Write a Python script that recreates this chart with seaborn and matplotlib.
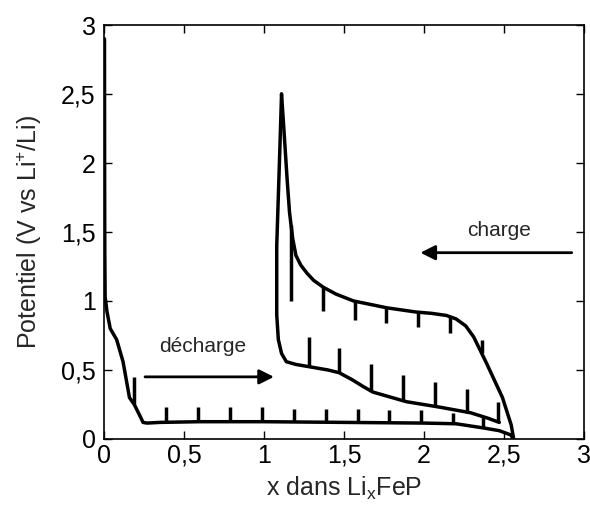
import matplotlib
matplotlib.use('Agg')
import matplotlib.pyplot as plt
import seaborn as sns

# first discharge (x goes up)
dis1_x = [0.004, 0.005, 0.006, 0.008, 0.02, 0.04, 0.08, 0.12, 0.16, 0.19, 0.22, 0.245, 0.27,
          0.35, 0.6, 1.0, 1.5, 2.0, 2.2, 2.37, 2.47, 2.54, 2.56]
dis1_y = [2.9, 1.8, 1.35, 1.03, 0.92, 0.8, 0.72, 0.56, 0.3, 0.25, 0.18, 0.12, 0.115,
          0.12, 0.125, 0.125, 0.12, 0.115, 0.11, 0.08, 0.06, 0.03, 0.0]
dis1_spike_x = [0.19, 0.39, 0.59, 0.79, 0.99, 1.19, 1.39, 1.59, 1.78, 1.98, 2.18, 2.37]
dis1_spike_lo = [0.25, 0.12, 0.125, 0.125, 0.125, 0.125, 0.122, 0.12, 0.118, 0.115, 0.11, 0.08]
dis1_spike_hi = [0.45, 0.23, 0.23, 0.23, 0.23, 0.22, 0.22, 0.22, 0.21, 0.21, 0.19, 0.16]

# charge (x goes down)
chg_x = [2.56, 2.545, 2.49, 2.39, 2.31, 2.26, 2.2, 2.14, 2.05, 1.95, 1.77, 1.56, 1.45,
         1.37, 1.31, 1.27, 1.23, 1.2, 1.18, 1.16, 1.145, 1.125, 1.11]
chg_y = [0.0, 0.1, 0.3, 0.55, 0.74, 0.82, 0.87, 0.895, 0.91, 0.92, 0.95, 1.0, 1.05,
         1.1, 1.15, 1.2, 1.26, 1.33, 1.45, 1.64, 1.88, 2.24, 2.5]
chg_spike_x = [1.17, 1.37, 1.57, 1.76, 1.96, 2.16, 2.36]
chg_spike_hi = [1.55, 1.1, 1.0, 0.95, 0.92, 0.89, 0.72]
chg_spike_lo = [1.0, 0.93, 0.86, 0.84, 0.81, 0.77, 0.62]

# second discharge
dis2_x = [1.11, 1.10, 1.08, 1.08, 1.09, 1.11, 1.14, 1.2, 1.3, 1.4, 1.47, 1.55, 1.62,
          1.68, 1.8, 1.89, 2.1, 2.29, 2.4, 2.47]
dis2_y = [2.5, 2.12, 1.4, 0.9, 0.72, 0.62, 0.56, 0.54, 0.52, 0.5, 0.48, 0.43, 0.38,
          0.34, 0.3, 0.27, 0.23, 0.19, 0.15, 0.12]
dis2_spike_x = [1.28, 1.47, 1.67, 1.87, 2.07, 2.27, 2.46]
dis2_spike_lo = [0.52, 0.48, 0.35, 0.28, 0.23, 0.19, 0.12]
dis2_spike_hi = [0.74, 0.66, 0.54, 0.46, 0.41, 0.36, 0.27]

ticks = [0, 0.5, 1, 1.5, 2, 2.5, 3]
tick_labels = ['0', '0,5', '1', '1,5', '2', '2,5', '3']

sns.set_theme(style='ticks')
plt.rcParams['font.family'] = ['Liberation Sans', 'DejaVu Sans']
plt.rcParams['mathtext.default'] = 'regular'

fig, ax = plt.subplots(figsize=(5.9, 5.11), dpi=100)
fig.subplots_adjust(left=0.176, right=0.99, bottom=0.141, top=0.951)

lw = 2.5
for xs, ys in [(dis1_x, dis1_y), (chg_x, chg_y), (dis2_x, dis2_y)]:
    sns.lineplot(x=xs, y=ys, sort=False, estimator=None, color='black', lw=lw,
                 ax=ax, solid_joinstyle='round', solid_capstyle='round')

# relaxation spikes
ax.vlines(dis1_spike_x, dis1_spike_lo, dis1_spike_hi, color='black', lw=lw)
ax.vlines(chg_spike_x, chg_spike_lo, chg_spike_hi, color='black', lw=lw)
ax.vlines(dis2_spike_x, dis2_spike_lo, dis2_spike_hi, color='black', lw=lw)

# arrows + labels
ax.annotate('', xy=(1.08, 0.45), xytext=(0.24, 0.45),
            arrowprops=dict(arrowstyle='-|>', color='black', lw=2, mutation_scale=22))
ax.text(0.62, 0.67, 'décharge', fontsize=15, ha='center', va='center')
ax.annotate('', xy=(1.96, 1.35), xytext=(2.94, 1.35),
            arrowprops=dict(arrowstyle='-|>', color='black', lw=2, mutation_scale=22))
ax.text(2.47, 1.51, 'charge', fontsize=15, ha='center', va='center')

ax.set_xlim(0, 3)
ax.set_ylim(0, 3)
ax.set_xticks(ticks)
ax.set_xticklabels(tick_labels)
ax.set_yticks(ticks)
ax.set_yticklabels(tick_labels)
ax.tick_params(direction='in', length=6, width=1, top=True, right=True,
               labelsize=18, colors='black')
ax.tick_params(axis='y', pad=6)
for s in ax.spines.values():
    s.set_linewidth(1.2)
    s.set_color('black')

ax.set_xlabel('x dans Li$_x$FeP', fontsize=18, labelpad=5)
ax.set_ylabel('Potentiel (V vs Li$^{+}$/Li)', fontsize=18, labelpad=12)

fig.savefig('out.png', dpi=100)
